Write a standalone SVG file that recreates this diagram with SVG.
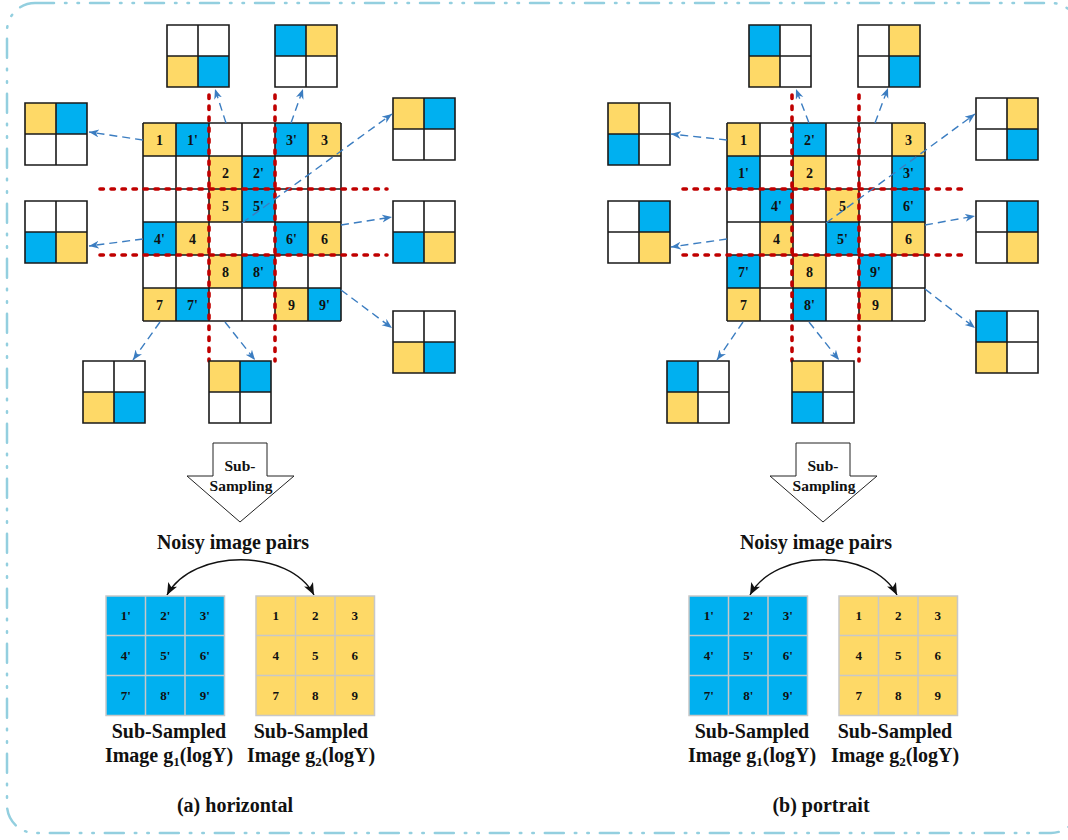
<svg xmlns="http://www.w3.org/2000/svg" width="1068" height="840" viewBox="0 0 1068 840">
<style>
.Y{fill:#fed967}.B{fill:#00b0f0}.W{fill:#fff}
.gl{fill:none;stroke:#1a1a1a;stroke-width:1.6}
.bl{fill:none;stroke:#1a1a1a;stroke-width:1.6}
.red{fill:none;stroke:#c00000;stroke-width:3.6;stroke-linecap:round;stroke-dasharray:3.4 7.6}
.arr{fill:none;stroke:#3b7dc1;stroke-width:1.4;stroke-dasharray:8 5;marker-end:url(#ba)}
.t{font-family:"Liberation Serif","Times New Roman",serif;font-weight:bold;text-anchor:middle;fill:#111}
.c{font-size:14px}
.s{font-size:13px}
.L{font-size:20px}
.sg{fill:none;stroke:#c8c8c8;stroke-width:1.5}
.dn{fill:#fff;stroke:#222;stroke-width:1}
.crv{fill:none;stroke:#111;stroke-width:1.4;marker-start:url(#ka);marker-end:url(#ka)}
</style>
<defs>
<marker id="ba" markerUnits="userSpaceOnUse" markerWidth="12" markerHeight="10" refX="10" refY="4" orient="auto"><path d="M0,0 L10,4 L0,8 L3,4 Z" fill="#3b7dc1"/></marker>
<marker id="ka" markerUnits="userSpaceOnUse" markerWidth="14" markerHeight="12" refX="12" refY="5" orient="auto-start-reverse"><path d="M0,0 L12,5 L0,10 L3,5 Z" fill="#111"/></marker>
<path id="b2" d="M0,0H62V62H0Z M31,0V62 M0,31H62" class="bl"/>
</defs>
<rect x="7" y="3" width="1072" height="830" rx="28" fill="none" stroke="#93cfdf" stroke-width="2.5" stroke-linecap="round" stroke-dasharray="19 11 1.5 11 1.5 11"/>

<!-- LEFT main grid -->
<g id="gridA">
<rect x="143" y="123" width="198" height="198" class="W"/>
<rect x="143" y="123" width="33" height="33" class="Y"/><rect x="176" y="123" width="33" height="33" class="B"/><rect x="275" y="123" width="33" height="33" class="B"/><rect x="308" y="123" width="33" height="33" class="Y"/>
<rect x="209" y="156" width="33" height="33" class="Y"/><rect x="242" y="156" width="33" height="33" class="B"/>
<rect x="209" y="189" width="33" height="33" class="Y"/><rect x="242" y="189" width="33" height="33" class="B"/>
<rect x="143" y="222" width="33" height="33" class="B"/><rect x="176" y="222" width="33" height="33" class="Y"/><rect x="275" y="222" width="33" height="33" class="B"/><rect x="308" y="222" width="33" height="33" class="Y"/>
<rect x="209" y="255" width="33" height="33" class="Y"/><rect x="242" y="255" width="33" height="33" class="B"/>
<rect x="143" y="288" width="33" height="33" class="Y"/><rect x="176" y="288" width="33" height="33" class="B"/><rect x="275" y="288" width="33" height="33" class="Y"/><rect x="308" y="288" width="33" height="33" class="B"/>
<path class="gl" d="M143,123V321M176,123V321M209,123V321M242,123V321M275,123V321M308,123V321M341,123V321M143,123H341M143,156H341M143,189H341M143,222H341M143,255H341M143,288H341M143,321H341"/>
<g class="t c">
<text x="159.5" y="144.5">1</text><text x="192.5" y="144.5">1'</text><text x="291.5" y="144.5">3'</text><text x="324.5" y="144.5">3</text>
<text x="225.5" y="177.5">2</text><text x="258.5" y="177.5">2'</text>
<text x="225.5" y="210.5">5</text><text x="258.5" y="210.5">5'</text>
<text x="159.5" y="243.5">4'</text><text x="192.5" y="243.5">4</text><text x="291.5" y="243.5">6'</text><text x="324.5" y="243.5">6</text>
<text x="225.5" y="276.5">8</text><text x="258.5" y="276.5">8'</text>
<text x="159.5" y="309.5">7</text><text x="192.5" y="309.5">7'</text><text x="291.5" y="309.5">9</text><text x="324.5" y="309.5">9'</text>
</g>
</g>

<!-- RIGHT main grid -->
<g id="gridB">
<rect x="727" y="123" width="198" height="198" class="W"/>
<rect x="727" y="123" width="33" height="33" class="Y"/><rect x="793" y="123" width="33" height="33" class="B"/><rect x="892" y="123" width="33" height="33" class="Y"/>
<rect x="727" y="156" width="33" height="33" class="B"/><rect x="793" y="156" width="33" height="33" class="Y"/><rect x="892" y="156" width="33" height="33" class="B"/>
<rect x="760" y="189" width="33" height="33" class="B"/><rect x="826" y="189" width="33" height="33" class="Y"/><rect x="892" y="189" width="33" height="33" class="B"/>
<rect x="760" y="222" width="33" height="33" class="Y"/><rect x="826" y="222" width="33" height="33" class="B"/><rect x="892" y="222" width="33" height="33" class="Y"/>
<rect x="727" y="255" width="33" height="33" class="B"/><rect x="793" y="255" width="33" height="33" class="Y"/><rect x="859" y="255" width="33" height="33" class="B"/>
<rect x="727" y="288" width="33" height="33" class="Y"/><rect x="793" y="288" width="33" height="33" class="B"/><rect x="859" y="288" width="33" height="33" class="Y"/>
<path class="gl" d="M727,123V321M760,123V321M793,123V321M826,123V321M859,123V321M892,123V321M925,123V321M727,123H925M727,156H925M727,189H925M727,222H925M727,255H925M727,288H925M727,321H925"/>
<g class="t c">
<text x="743.5" y="144.5">1</text><text x="809.5" y="144.5">2'</text><text x="908.5" y="144.5">3</text>
<text x="743.5" y="177.5">1'</text><text x="809.5" y="177.5">2</text><text x="908.5" y="177.5">3'</text>
<text x="776.5" y="210.5">4'</text><text x="842.5" y="210.5">5</text><text x="908.5" y="210.5">6'</text>
<text x="776.5" y="243.5">4</text><text x="842.5" y="243.5">5'</text><text x="908.5" y="243.5">6</text>
<text x="743.5" y="276.5">7'</text><text x="809.5" y="276.5">8</text><text x="875.5" y="276.5">9'</text>
<text x="743.5" y="309.5">7</text><text x="809.5" y="309.5">8'</text><text x="875.5" y="309.5">9</text>
</g>
</g>

<!-- red partition lines -->
<g id="partitions">
<path class="red" d="M100,189H387M100,255H387M209,95V361M275,95V361"/>
<path class="red" d="M683,189H969M683,255H969M792,95V361M859,95V361"/>
</g>

<!-- small 2x2 blocks, left -->
<g id="L1" transform="translate(167,25)"><rect x="0" y="0" width="62" height="62" class="W"/><rect x="0" y="31" width="31" height="31" class="Y"/><rect x="31" y="31" width="31" height="31" class="B"/><use href="#b2"/></g>
<g id="L2" transform="translate(275,25)"><rect x="0" y="0" width="62" height="62" class="W"/><rect x="0" y="0" width="31" height="31" class="B"/><rect x="31" y="0" width="31" height="31" class="Y"/><use href="#b2"/></g>
<g id="L3" transform="translate(25,103)"><rect x="0" y="0" width="62" height="62" class="W"/><rect x="0" y="0" width="31" height="31" class="Y"/><rect x="31" y="0" width="31" height="31" class="B"/><use href="#b2"/></g>
<g id="L4" transform="translate(25,201)"><rect x="0" y="0" width="62" height="62" class="W"/><rect x="0" y="31" width="31" height="31" class="B"/><rect x="31" y="31" width="31" height="31" class="Y"/><use href="#b2"/></g>
<g id="L5" transform="translate(393,98)"><rect x="0" y="0" width="62" height="62" class="W"/><rect x="0" y="0" width="31" height="31" class="Y"/><rect x="31" y="0" width="31" height="31" class="B"/><use href="#b2"/></g>
<g id="L6" transform="translate(393,201)"><rect x="0" y="0" width="62" height="62" class="W"/><rect x="0" y="31" width="31" height="31" class="B"/><rect x="31" y="31" width="31" height="31" class="Y"/><use href="#b2"/></g>
<g id="L7" transform="translate(393,311)"><rect x="0" y="0" width="62" height="62" class="W"/><rect x="0" y="31" width="31" height="31" class="Y"/><rect x="31" y="31" width="31" height="31" class="B"/><use href="#b2"/></g>
<g id="L8" transform="translate(83,361)"><rect x="0" y="0" width="62" height="62" class="W"/><rect x="0" y="31" width="31" height="31" class="Y"/><rect x="31" y="31" width="31" height="31" class="B"/><use href="#b2"/></g>
<g id="L9" transform="translate(209,361)"><rect x="0" y="0" width="62" height="62" class="W"/><rect x="0" y="0" width="31" height="31" class="Y"/><rect x="31" y="0" width="31" height="31" class="B"/><use href="#b2"/></g>

<!-- small 2x2 blocks, right -->
<g id="R1" transform="translate(749,25)"><rect x="0" y="0" width="62" height="62" class="W"/><rect x="0" y="0" width="31" height="31" class="B"/><rect x="0" y="31" width="31" height="31" class="Y"/><use href="#b2"/></g>
<g id="R2" transform="translate(858,25)"><rect x="0" y="0" width="62" height="62" class="W"/><rect x="31" y="0" width="31" height="31" class="Y"/><rect x="31" y="31" width="31" height="31" class="B"/><use href="#b2"/></g>
<g id="R3" transform="translate(608,103)"><rect x="0" y="0" width="62" height="62" class="W"/><rect x="0" y="0" width="31" height="31" class="Y"/><rect x="0" y="31" width="31" height="31" class="B"/><use href="#b2"/></g>
<g id="R4" transform="translate(608,201)"><rect x="0" y="0" width="62" height="62" class="W"/><rect x="31" y="0" width="31" height="31" class="B"/><rect x="31" y="31" width="31" height="31" class="Y"/><use href="#b2"/></g>
<g id="R5" transform="translate(976,98)"><rect x="0" y="0" width="62" height="62" class="W"/><rect x="31" y="0" width="31" height="31" class="Y"/><rect x="31" y="31" width="31" height="31" class="B"/><use href="#b2"/></g>
<g id="R6" transform="translate(976,201)"><rect x="0" y="0" width="62" height="62" class="W"/><rect x="31" y="0" width="31" height="31" class="B"/><rect x="31" y="31" width="31" height="31" class="Y"/><use href="#b2"/></g>
<g id="R7" transform="translate(976,311)"><rect x="0" y="0" width="62" height="62" class="W"/><rect x="0" y="0" width="31" height="31" class="B"/><rect x="0" y="31" width="31" height="31" class="Y"/><use href="#b2"/></g>
<g id="R8" transform="translate(667,361)"><rect x="0" y="0" width="62" height="62" class="W"/><rect x="0" y="0" width="31" height="31" class="B"/><rect x="0" y="31" width="31" height="31" class="Y"/><use href="#b2"/></g>
<g id="R9" transform="translate(792,361)"><rect x="0" y="0" width="62" height="62" class="W"/><rect x="0" y="0" width="31" height="31" class="Y"/><rect x="0" y="31" width="31" height="31" class="B"/><use href="#b2"/></g>

<!-- connectors -->
<g id="connectors">
<path class="arr" d="M143,140L89,132"/>
<path class="arr" d="M143,239L89,246"/>
<path class="arr" d="M226,123L215,89"/>
<path class="arr" d="M291,123L303,89"/>
<path class="arr" d="M242,223L392,114"/>
<path class="arr" d="M341,225L392,217"/>
<path class="arr" d="M341,290L392,328"/>
<path class="arr" d="M160,322L133,360"/>
<path class="arr" d="M225,322L255,360"/>
<path class="arr" d="M727,140L671,134"/>
<path class="arr" d="M727,239L671,247"/>
<path class="arr" d="M809,123L796,89"/>
<path class="arr" d="M875,123L888,88"/>
<path class="arr" d="M826,223L975,114"/>
<path class="arr" d="M925,225L975,216"/>
<path class="arr" d="M925,289L975,328"/>
<path class="arr" d="M743,322L717,360"/>
<path class="arr" d="M809,322L839,360"/>
<path class="crv" d="M167,595C192,548 290,548 314,595"/>
<path class="crv" d="M750,595C775,548 873,548 897,595"/>
</g>

<!-- sub-sampling arrows -->
<g id="subA">
<polygon class="dn" points="213,443 267,443 267,476 294,476 240,522 187,476 213,476"/>
<text class="t" font-size="15.5" x="240" y="471">Sub-</text>
<text class="t" font-size="15.5" x="241" y="491">Sampling</text>
</g>
<g id="subB">
<polygon class="dn" points="796,443 850,443 850,476 877,476 823,522 770,476 796,476"/>
<text class="t" font-size="15.5" x="823" y="471">Sub-</text>
<text class="t" font-size="15.5" x="824" y="491">Sampling</text>
</g>
<text class="t L" x="233" y="549">Noisy image pairs</text>
<text class="t L" x="816" y="549">Noisy image pairs</text>

<!-- result grids -->
<g id="g1A">
<rect x="106" y="596" width="118.5" height="119.5" class="B"/>
<path class="sg" d="M106,596H224.5V715.5H106Z M145.5,596V715.5 M185,596V715.5 M106,635.5H224.5 M106,675.5H224.5"/>
<g class="t s"><text x="125.7" y="620">1'</text><text x="165.2" y="620">2'</text><text x="204.7" y="620">3'</text><text x="125.7" y="660">4'</text><text x="165.2" y="660">5'</text><text x="204.7" y="660">6'</text><text x="125.7" y="700">7'</text><text x="165.2" y="700">8'</text><text x="204.7" y="700">9'</text></g>
</g>
<g id="g2A">
<rect x="256" y="596" width="118.5" height="119.5" class="Y"/>
<path class="sg" d="M256,596H374.5V715.5H256Z M295.5,596V715.5 M335,596V715.5 M256,635.5H374.5 M256,675.5H374.5"/>
<g class="t s"><text x="275.7" y="620">1</text><text x="315.2" y="620">2</text><text x="354.7" y="620">3</text><text x="275.7" y="660">4</text><text x="315.2" y="660">5</text><text x="354.7" y="660">6</text><text x="275.7" y="700">7</text><text x="315.2" y="700">8</text><text x="354.7" y="700">9</text></g>
</g>
<g id="g1B">
<rect x="689" y="596" width="118.5" height="119.5" class="B"/>
<path class="sg" d="M689,596H807.5V715.5H689Z M728.5,596V715.5 M768,596V715.5 M689,635.5H807.5 M689,675.5H807.5"/>
<g class="t s"><text x="708.7" y="620">1'</text><text x="748.2" y="620">2'</text><text x="787.7" y="620">3'</text><text x="708.7" y="660">4'</text><text x="748.2" y="660">5'</text><text x="787.7" y="660">6'</text><text x="708.7" y="700">7'</text><text x="748.2" y="700">8'</text><text x="787.7" y="700">9'</text></g>
</g>
<g id="g2B">
<rect x="839" y="596" width="118.5" height="119.5" class="Y"/>
<path class="sg" d="M839,596H957.5V715.5H839Z M878.5,596V715.5 M918,596V715.5 M839,635.5H957.5 M839,675.5H957.5"/>
<g class="t s"><text x="858.7" y="620">1</text><text x="898.2" y="620">2</text><text x="937.7" y="620">3</text><text x="858.7" y="660">4</text><text x="898.2" y="660">5</text><text x="937.7" y="660">6</text><text x="858.7" y="700">7</text><text x="898.2" y="700">8</text><text x="937.7" y="700">9</text></g>
</g>

<!-- labels -->
<g class="t L">
<text x="169" y="738">Sub-Sampled</text>
<text x="169" y="762">Image g<tspan font-size="13" dy="4">1</tspan><tspan dy="-4">(logY)</tspan></text>
<text x="311" y="738">Sub-Sampled</text>
<text x="311" y="762">Image g<tspan font-size="13" dy="4">2</tspan><tspan dy="-4">(logY)</tspan></text>
<text x="752" y="738">Sub-Sampled</text>
<text x="752" y="762">Image g<tspan font-size="13" dy="4">1</tspan><tspan dy="-4">(logY)</tspan></text>
<text x="895" y="738">Sub-Sampled</text>
<text x="895" y="762">Image g<tspan font-size="13" dy="4">2</tspan><tspan dy="-4">(logY)</tspan></text>
<text x="235" y="812">(a) horizontal</text>
<text x="821" y="812">(b) portrait</text>
</g>
</svg>
